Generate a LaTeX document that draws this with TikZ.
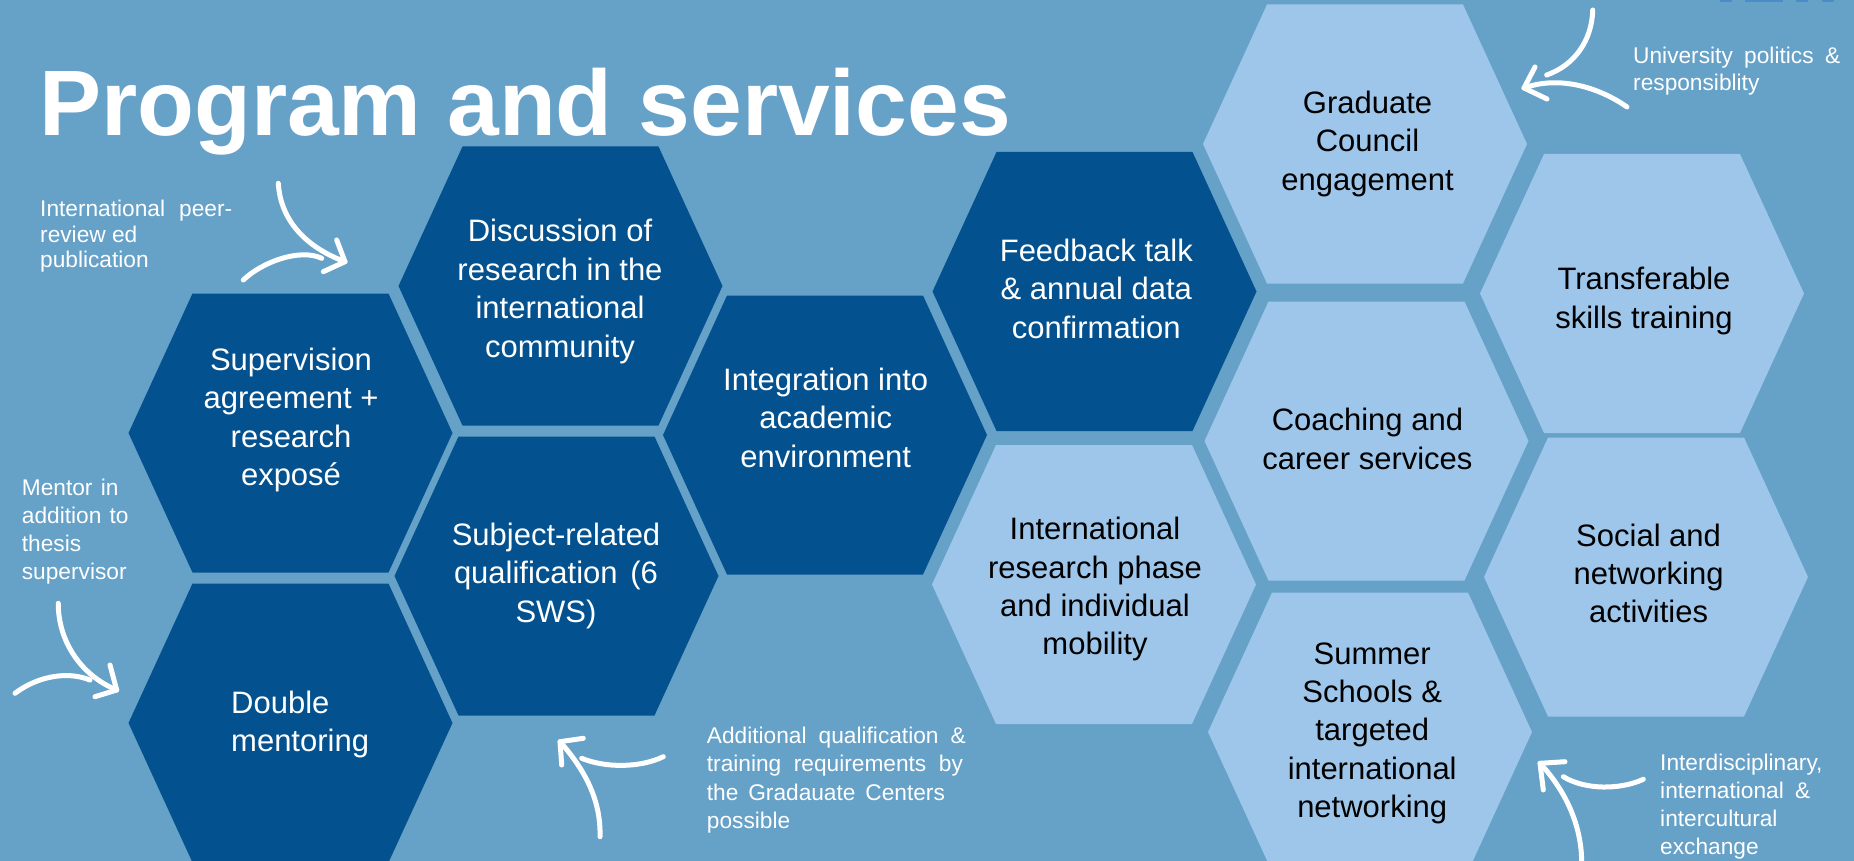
\documentclass[tikz,border=0pt]{standalone}
\usepackage{fontspec}
\setmainfont{Liberation Sans}
\definecolor{bgblue}{HTML}{66A1C8}
\definecolor{darkhex}{HTML}{03528F}
\definecolor{lighthex}{HTML}{9DC6EA}
\definecolor{logoblue}{HTML}{4A8CC8}
\newcommand\hexfont{\fontsize{31}{38.4}\selectfont}
\newcommand\hexstrut{\rule{0pt}{27pt}}
\newcommand\notestrut{\rule{0pt}{20pt}}
\newcommand\hexcell[2]{\fill[#2] (#1) ++(-162,0) -- ++(64,-139.5) -- ++(196,0) -- ++(64,139.5) -- ++(-64,139.5) -- ++(-196,0) -- cycle;}
\begin{document}
\begin{tikzpicture}[x=1pt,y=-1pt,
  hextext/.style={font=\hexfont, align=center, inner sep=0pt, anchor=north, yshift=27pt},
  darktext/.style={hextext, text=white},
  lighttext/.style={hextext, text=black},
  note/.style={text=white, align=left, inner sep=0pt, anchor=north west, yshift=20pt},
  arr/.style={draw=white, line width=5pt, line cap=round, line join=round}]
\useasboundingbox (0,0) rectangle (1854,861);
\fill[bgblue] (0,0) rectangle (1854,861);
% logo fragments
\fill[logoblue] (1720,0) rectangle (1732,2);
\fill[logoblue] (1745,0) rectangle (1783,2);
\fill[logoblue] (1796,0) rectangle (1808,2);
\fill[logoblue] (1822,0) rectangle (1834,2);
% hexagon centres
\coordinate (cSup) at (290.5,433);
\coordinate (cDisc) at (560.5,286);
\coordinate (cSubj) at (556.5,576);
\coordinate (cDbl) at (290.5,723);
\coordinate (cInteg) at (825,435);
\coordinate (cFeed) at (1094.5,291.5);
\coordinate (cIntl) at (1094,584.5);
\coordinate (cGrad) at (1365,144);
\coordinate (cCoach) at (1366.5,441);
\coordinate (cSummer) at (1370,732);
\coordinate (cTransf) at (1642,293.5);
\coordinate (cSocial) at (1646,577);
\hexcell{cSup}{darkhex}
\hexcell{cDisc}{darkhex}
\hexcell{cSubj}{darkhex}
\hexcell{cDbl}{darkhex}
\hexcell{cInteg}{darkhex}
\hexcell{cFeed}{darkhex}
\hexcell{cIntl}{lighthex}
\hexcell{cGrad}{lighthex}
\hexcell{cCoach}{lighthex}
\hexcell{cSummer}{lighthex}
\hexcell{cTransf}{lighthex}
\hexcell{cSocial}{lighthex}
% title
\node[anchor=base west, inner sep=0pt, text=white, font=\fontsize{93}{100}\selectfont\bfseries] (title) at (39,135.7) {Program and services};
% hexagon texts
\node[darktext] (sup) at (291,370) {\hexstrut Supervision\\agreement +\\research\\exposé};
\node[darktext] (disc) at (560,241.7) {\hexstrut Discussion of\\research in the\\international\\community};
\node[darktext] (subj) at (556,545.2) {\hexstrut Subject-related\\\makebox[204pt][s]{qualification (6}\\SWS)};
\node[darktext, align=left, anchor=north west] (dbl) at (231,713.3) {\hexstrut Double\\mentoring};
\node[darktext] (integ) at (825.7,390.2) {\hexstrut Integration into\\academic\\environment};
\node[darktext] (feed) at (1096.3,261.3) {\hexstrut Feedback talk\\\& annual data\\confirmation};
\node[lighttext] (intl) at (1095,539.5) {\hexstrut International\\research phase\\and individual\\mobility};
\node[lighttext] (grad) at (1367.5,113.3) {\hexstrut Graduate\\Council\\engagement};
\node[lighttext] (transf) at (1644,289.4) {\hexstrut Transferable\\skills training};
\node[lighttext] (coach) at (1367.4,430.7) {\hexstrut Coaching and\\career services};
\node[lighttext] (social) at (1648.6,545.8) {\hexstrut Social and\\networking\\activities};
\node[lighttext] (summer) at (1372.2,663.8) {\hexstrut Summer\\Schools \&\\targeted\\international\\networking};
% annotations
\node[note, font=\fontsize{22.7}{27}\selectfont] (nUni) at (1633,63) {\notestrut\makebox[207pt][s]{University politics \&}\\responsiblity};
\node[note, font=\fontsize{22.7}{25.3}\selectfont] (nPeer) at (40,216.7) {\notestrut\makebox[192pt][s]{International peer-}\\review ed\\publication};
\node[note, font=\fontsize{22.7}{27.8}\selectfont] (nMent) at (21.7,495.5) {\notestrut\makebox[96.7pt][s]{Mentor in}\\\makebox[106.7pt][s]{addition to}\\thesis\\supervisor};
\node[note, font=\fontsize{22.7}{28.3}\selectfont] (nAdd) at (706.7,743.3) {\notestrut\makebox[259pt][s]{Additional qualification \&}\\\makebox[256pt][s]{training requirements by}\\\makebox[238pt][s]{the Gradauate Centers}\\possible};
\node[note, font=\fontsize{22.7}{28}\selectfont] (nInt) at (1660,770) {\notestrut Interdisciplinary,\\\makebox[150pt][s]{international \&}\\intercultural\\exchange};
% arrows: University politics
\coordinate (uS) at (1627,107); \coordinate (uT) at (1524,88);
\coordinate (uS2) at (1592.7,10); \coordinate (uE2) at (1546.7,75);
\draw[arr] (uS) .. controls (1600,88) and (1560,75) .. (uT);
\draw[arr] ([shift={(11,-21)}]uT) -- (uT) -- ([shift={(23,11)}]uT);
\draw[arr] (uS2) .. controls (1592,40) and (1575,65) .. (uE2);
% arrows: peer-reviewed
\coordinate (pS) at (278.3,183.3); \coordinate (pT) at (345,261.7);
\coordinate (pS2) at (243.3,280); \coordinate (pE2) at (321.7,258.3);
\draw[arr] (pS) .. controls (280,215) and (300,245) .. (pT);
\draw[arr] ([shift={(-8.3,-21.7)}]pT) -- (pT) -- ([shift={(-21.7,10)}]pT);
\draw[arr] (pS2) .. controls (262,262) and (300,248) .. (pE2);
% arrows: mentor
\coordinate (mS) at (58.3,603.3); \coordinate (mT) at (116.7,690);
\coordinate (mS2) at (15,693.3); \coordinate (mE2) at (90,680);
\draw[arr] (mS) .. controls (58,640) and (80,675) .. (mT);
\draw[arr] ([shift={(-6.7,-25)}]mT) -- (mT) -- ([shift={(-21.7,6.7)}]mT);
\draw[arr] (mS2) .. controls (35,678) and (65,670) .. (mE2);
% arrows: additional qualification
\coordinate (aS) at (600,836.7); \coordinate (aT) at (560,741.7);
\coordinate (aS2) at (663.3,756.7); \coordinate (aE2) at (581.7,758.3);
\draw[arr] (aS) .. controls (601,800) and (585,770) .. (aT);
\draw[arr] ([shift={(23.3,-3.4)}]aT) -- (aT) -- ([shift={(1.7,23.3)}]aT);
\draw[arr] (aS2) .. controls (640,768) and (605,768) .. (aE2);
% arrows: interdisciplinary
\coordinate (iS) at (1581.7,864); \coordinate (iT) at (1540,763.3);
\coordinate (iS2) at (1643.3,779.3); \coordinate (iE2) at (1563.3,776.7);
\draw[arr] (iS) .. controls (1582,825) and (1565,790) .. (iT);
\draw[arr] ([shift={(25,-1.6)}]iT) -- (iT) -- ([shift={(3.3,26.7)}]iT);
\draw[arr] (iS2) .. controls (1620,790) and (1585,790) .. (iE2);
\end{tikzpicture}
\end{document}
